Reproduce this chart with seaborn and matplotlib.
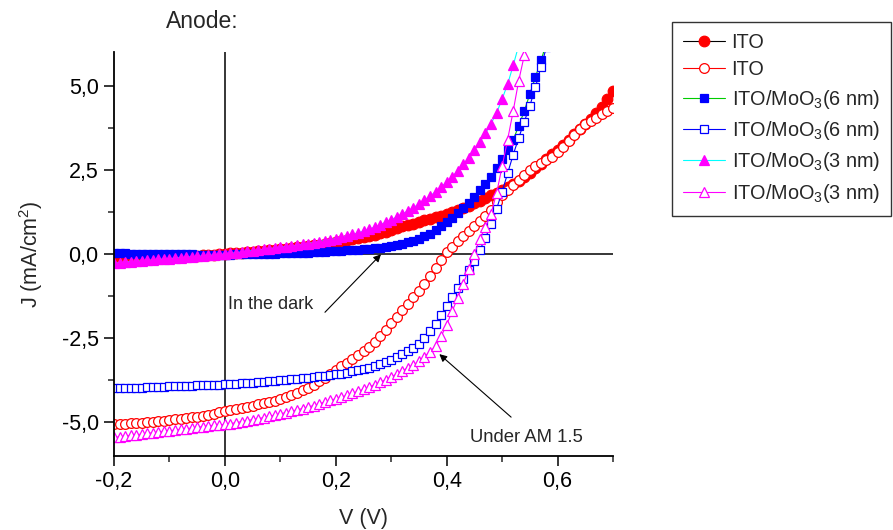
import numpy as np
import matplotlib
matplotlib.use("Agg")
import matplotlib.pyplot as plt
import seaborn as sns
from matplotlib.ticker import MultipleLocator, FuncFormatter

# voltage sweep, 10 mV steps from -0.2 V
V = np.round(np.arange(-0.20, 0.705, 0.01), 2)

# J (mA/cm2), rows of ten = 0.1 V each
dark_ito = [-0.20, -0.19, -0.18, -0.17, -0.16, -0.15, -0.14, -0.13, -0.12, -0.11,
            -0.10, -0.09, -0.08, -0.07, -0.06, -0.05, -0.04, -0.03, -0.02, -0.01,
            0.00, 0.02, 0.03, 0.04, 0.05, 0.07, 0.08, 0.09, 0.11, 0.12,
            0.14, 0.16, 0.18, 0.20, 0.22, 0.24, 0.26, 0.28, 0.30, 0.32,
            0.35, 0.38, 0.41, 0.44, 0.47, 0.50, 0.53, 0.57, 0.61, 0.65,
            0.70, 0.76, 0.82, 0.86, 0.90, 0.95, 1.00, 1.04, 1.09, 1.13,
            1.18, 1.24, 1.30, 1.37, 1.44, 1.51, 1.58, 1.66, 1.74, 1.82,
            1.90, 1.98, 2.07, 2.18, 2.30, 2.42, 2.55, 2.68, 2.82, 2.96,
            3.10, 3.25, 3.40, 3.55, 3.70, 3.85, 4.00, 4.18, 4.38, 4.60,
            4.83]
light_ito = [-5.06, -5.05, -5.04, -5.03, -5.02, -5.01, -4.99, -4.98, -4.96, -4.95,
             -4.93, -4.91, -4.89, -4.87, -4.85, -4.83, -4.80, -4.77, -4.74, -4.70,
             -4.66, -4.63, -4.60, -4.57, -4.53, -4.50, -4.47, -4.43, -4.40, -4.36,
             -4.31, -4.26, -4.20, -4.13, -4.05, -3.97, -3.88, -3.78, -3.67, -3.56,
             -3.45, -3.34, -3.23, -3.12, -3.01, -2.89, -2.75, -2.60, -2.43, -2.25,
             -2.05, -1.86, -1.67, -1.48, -1.29, -1.10, -0.88, -0.66, -0.42, -0.18,
             0.05, 0.22, 0.38, 0.53, 0.68, 0.83, 0.98, 1.12, 1.32, 1.55,
             1.75, 1.91, 2.06, 2.21, 2.36, 2.50, 2.60, 2.70, 2.80, 2.88,
             3.02, 3.18, 3.35, 3.53, 3.72, 3.85, 3.95, 4.05, 4.15, 4.25,
             4.35]
dark_6nm = [0.02, 0.02, 0.02, 0.01, 0.01, 0.01, 0.01, 0.00, 0.00, 0.00,
            0.00, -0.01, -0.01, -0.01, -0.01, -0.02, -0.02, -0.02, -0.02, -0.02,
            -0.02, -0.02, -0.01, -0.01, -0.01, 0.00, 0.00, 0.00, 0.01, 0.01,
            0.02, 0.02, 0.03, 0.03, 0.04, 0.04, 0.05, 0.06, 0.07, 0.08,
            0.09, 0.10, 0.11, 0.12, 0.13, 0.14, 0.15, 0.17, 0.19, 0.21,
            0.24, 0.27, 0.31, 0.35, 0.40, 0.46, 0.52, 0.59, 0.70, 0.82,
            0.94, 1.07, 1.21, 1.36, 1.52, 1.70, 1.89, 2.09, 2.30, 2.55,
            2.82, 3.10, 3.40, 3.80, 4.25, 4.75, 5.25, 5.75, 6.25]
light_6nm = [-3.99, -3.99, -3.98, -3.98, -3.97, -3.97, -3.96, -3.96, -3.95, -3.94,
             -3.93, -3.93, -3.92, -3.91, -3.91, -3.90, -3.89, -3.89, -3.88, -3.88,
             -3.87, -3.86, -3.85, -3.84, -3.83, -3.82, -3.80, -3.79, -3.78, -3.76,
             -3.75, -3.73, -3.72, -3.70, -3.69, -3.67, -3.65, -3.63, -3.61, -3.59,
             -3.57, -3.55, -3.52, -3.49, -3.46, -3.42, -3.38, -3.33, -3.27, -3.21,
             -3.14, -3.06, -2.98, -2.89, -2.80, -2.66, -2.50, -2.30, -2.07, -1.82,
             -1.55, -1.29, -1.02, -0.75, -0.48, -0.20, 0.12, 0.48, 0.88, 1.34,
             1.85, 2.40, 2.95, 3.45, 3.93, 4.40, 4.95, 5.55, 6.15]
dark_3nm = [-0.27, -0.26, -0.24, -0.23, -0.22, -0.20, -0.19, -0.18, -0.16, -0.15,
            -0.14, -0.12, -0.11, -0.10, -0.08, -0.07, -0.06, -0.04, -0.03, -0.01,
            0.00, 0.02, 0.04, 0.06, 0.08, 0.10, 0.12, 0.14, 0.16, 0.18,
            0.20, 0.22, 0.24, 0.26, 0.29, 0.31, 0.34, 0.37, 0.40, 0.43,
            0.46, 0.50, 0.54, 0.58, 0.63, 0.68, 0.74, 0.80, 0.87, 0.94,
            1.02, 1.10, 1.19, 1.28, 1.38, 1.48, 1.60, 1.72, 1.85, 1.99,
            2.14, 2.30, 2.47, 2.66, 2.86, 3.08, 3.32, 3.58, 3.87, 4.19,
            4.60, 5.05, 5.60, 6.20]
light_3nm = [-5.45, -5.43, -5.41, -5.39, -5.37, -5.35, -5.33, -5.31, -5.29, -5.27,
             -5.25, -5.23, -5.21, -5.19, -5.17, -5.15, -5.13, -5.11, -5.09, -5.08,
             -5.06, -5.04, -5.01, -4.98, -4.95, -4.92, -4.89, -4.86, -4.82, -4.79,
             -4.75, -4.71, -4.67, -4.63, -4.59, -4.55, -4.50, -4.45, -4.40, -4.35,
             -4.30, -4.25, -4.20, -4.14, -4.08, -4.02, -3.95, -3.88, -3.81, -3.73,
             -3.65, -3.56, -3.47, -3.38, -3.29, -3.19, -3.05, -2.90, -2.74, -2.45,
             -2.10, -1.70, -1.30, -0.88, -0.45, 0.00, 0.45, 0.80, 1.20, 1.80,
             2.60, 3.40, 4.25, 5.15, 5.90, 6.60]

labels = ["ITO", "ITO", "ITO/MoO$_3$(6 nm)", "ITO/MoO$_3$(6 nm)",
          "ITO/MoO$_3$(3 nm)", "ITO/MoO$_3$(3 nm)"]

sns.set_style("ticks")
plt.rcParams['font.family'] = ['Liberation Sans', 'DejaVu Sans']
plt.rcParams['mathtext.fontset'] = 'custom'
plt.rcParams['mathtext.rm'] = 'Liberation Sans'
plt.rcParams['mathtext.it'] = 'Liberation Sans:italic'

fig = plt.figure(figsize=(8.93, 5.30), dpi=100)
ax = fig.add_axes([114 / 893, 1 - 456 / 530, 499 / 893, 404 / 530])

# (data, line colour, marker, size, face, edge)
series = [
    (dark_ito, "black", "o", 7.6, "red", "red"),
    (light_ito, "red", "o", 7.0, "white", "red"),
    (dark_6nm, "#00cc00", "s", 6.4, "blue", "blue"),
    (light_6nm, "blue", "s", 5.8, "white", "blue"),
    (dark_3nm, "cyan", "^", 7.8, "magenta", "magenta"),
    (light_3nm, "magenta", "^", 7.6, "white", "magenta"),
]

ax.axhline(0, color="black", lw=1.1, zorder=1)
ax.axvline(0, color="black", lw=1.1, zorder=1)

for (J, lc, m, ms, fc, ec), lab in zip(series, labels):
    sns.lineplot(x=V[:len(J)], y=J, ax=ax, color=lc, lw=0.8, marker=m,
                 markersize=ms, markerfacecolor=fc, markeredgecolor=ec,
                 markeredgewidth=0.9, label=lab, legend=False,
                 errorbar=None, sort=False)

ax.set_xlim(-0.2, 0.7)
ax.set_ylim(-6, 6)
ax.xaxis.set_major_locator(MultipleLocator(0.2))
ax.xaxis.set_minor_locator(MultipleLocator(0.1))
ax.yaxis.set_major_locator(MultipleLocator(2.5))
ax.yaxis.set_minor_locator(MultipleLocator(1.25))
comma = FuncFormatter(lambda v, p: f"{v:.1f}".replace(".", ",").replace("-0,0", "0,0"))
ax.xaxis.set_major_formatter(comma)
ax.yaxis.set_major_formatter(comma)
ax.tick_params(which="major", direction="out", length=7, width=1.1,
               labelsize=15.5, pad=4, colors="black")
ax.tick_params(which="minor", direction="out", length=4, width=1.1)
sns.despine(ax=ax)
for s in ["left", "bottom"]:
    ax.spines[s].set_linewidth(1.3)
    ax.spines[s].set_color("black")

ax.set_xlabel("V (V)", fontsize=15.5, labelpad=11)
ax.set_ylabel("J (mA/cm$^2$)", fontsize=15.5, labelpad=12)

fig.text(202 / 893, 1 - 22 / 530, "Anode:", fontsize=16.5, ha="center", va="center")

ax.text(0.006, -1.5, "In the dark", fontsize=13, ha="left", va="center")
ax.annotate("", xy=(0.285, 0.05), xytext=(0.177, -1.79),
            arrowprops=dict(arrowstyle="-|>", color="black", lw=0.8,
                            mutation_scale=11))
ax.text(0.442, -5.44, "Under AM 1.5", fontsize=13.3, ha="left", va="center")
ax.annotate("", xy=(0.383, -2.92), xytext=(0.52, -4.9),
            arrowprops=dict(arrowstyle="-|>", color="black", lw=0.8,
                            mutation_scale=11))

handles = [l for l in ax.get_lines() if not l.get_label().startswith("_")]
leg = fig.legend(handles=handles, labels=[h.get_label() for h in handles],
                 loc="upper left", bbox_to_anchor=(672 / 893, 1 - 22 / 530),
                 fontsize=14.3, frameon=True, fancybox=False, handlelength=2.1,
                 handletextpad=0.35, borderpad=0.55, labelspacing=0.42,
                 borderaxespad=0)
leg.get_frame().set_edgecolor("black")
leg.get_frame().set_linewidth(1.0)

fig.savefig("out.png", dpi=100)
